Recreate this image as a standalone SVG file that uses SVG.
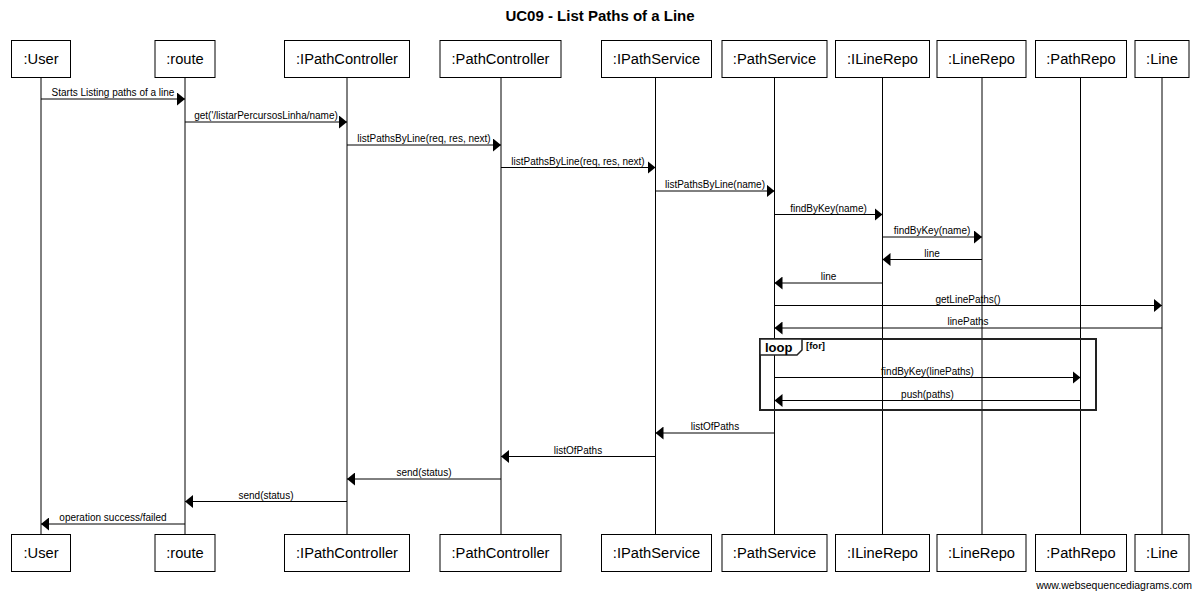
<svg xmlns="http://www.w3.org/2000/svg" width="1200" height="597" viewBox="0 0 1200 597">
<style>
.bg{fill:#fff}
.box{fill:#fff;stroke:#000;stroke-width:1}
.pt{font-family:"Liberation Sans",Arial,sans-serif;font-size:14.7px;fill:#000;text-anchor:middle}
.life{stroke:#000;stroke-width:1;fill:none}
.msg{stroke:#000;stroke-width:1;fill:none;marker-end:url(#ah)}
.lbl{font-family:"Liberation Sans",Arial,sans-serif;font-size:10px;fill:#000;text-anchor:middle}
.title{font-family:"Liberation Sans",Arial,sans-serif;font-size:15px;font-weight:bold;fill:#000;text-anchor:middle}
.foot{font-family:"Liberation Sans",Arial,sans-serif;font-size:10.5px;fill:#000;text-anchor:end}
.frame{fill:none;stroke:#222;stroke-width:2}
.tab{fill:#fff;stroke:#222;stroke-width:1.5}
.loopt{font-family:"Liberation Sans",Arial,sans-serif;font-size:13px;font-weight:bold;fill:#000}
.cond{font-family:"Liberation Sans",Arial,sans-serif;font-size:9.5px;font-weight:bold;fill:#000}
</style>
<defs>
<marker id="ah" markerUnits="userSpaceOnUse" markerWidth="9" markerHeight="13" refX="8" refY="6.5" orient="auto">
<path d="M0,0 L8,6.5 L0,13 z" fill="#000"/>
</marker>
</defs>
<rect class="bg" x="0" y="0" width="1200" height="597"/>
<text class="title" x="600" y="21">UC09 - List Paths of a Line</text>

<g id="lifelines">
<line class="life" x1="41" y1="77" x2="41" y2="535"/>
<line class="life" x1="185" y1="77" x2="185" y2="535"/>
<line class="life" x1="347" y1="77" x2="347" y2="535"/>
<line class="life" x1="501" y1="77" x2="501" y2="535"/>
<line class="life" x1="655.5" y1="77" x2="655.5" y2="535"/>
<line class="life" x1="774.5" y1="77" x2="774.5" y2="535"/>
<line class="life" x1="882.5" y1="77" x2="882.5" y2="535"/>
<line class="life" x1="982" y1="77" x2="982" y2="535"/>
<line class="life" x1="1080.5" y1="77" x2="1080.5" y2="535"/>
<line class="life" x1="1162" y1="77" x2="1162" y2="535"/>
</g>

<g id="n-user">
<rect class="box" x="11.5" y="40.5" width="59" height="37"/><text class="pt" x="41" y="64">:User</text>
<rect class="box" x="11.5" y="534.5" width="59" height="37"/><text class="pt" x="41" y="558">:User</text>
</g>
<g id="n-route">
<rect class="box" x="155" y="40.5" width="60" height="37"/><text class="pt" x="185" y="64">:route</text>
<rect class="box" x="155" y="534.5" width="60" height="37"/><text class="pt" x="185" y="558">:route</text>
</g>
<g id="n-ipathcontroller">
<rect class="box" x="284.5" y="40.5" width="125" height="37"/><text class="pt" x="347" y="64">:IPathController</text>
<rect class="box" x="284.5" y="534.5" width="125" height="37"/><text class="pt" x="347" y="558">:IPathController</text>
</g>
<g id="n-pathcontroller">
<rect class="box" x="440" y="40.5" width="121" height="37"/><text class="pt" x="500.5" y="64">:PathController</text>
<rect class="box" x="440" y="534.5" width="121" height="37"/><text class="pt" x="500.5" y="558">:PathController</text>
</g>
<g id="n-ipathservice">
<rect class="box" x="601.5" y="40.5" width="110" height="37"/><text class="pt" x="656.5" y="64">:IPathService</text>
<rect class="box" x="601.5" y="534.5" width="110" height="37"/><text class="pt" x="656.5" y="558">:IPathService</text>
</g>
<g id="n-pathservice">
<rect class="box" x="722" y="40.5" width="105" height="37"/><text class="pt" x="774.5" y="64">:PathService</text>
<rect class="box" x="722" y="534.5" width="105" height="37"/><text class="pt" x="774.5" y="558">:PathService</text>
</g>
<g id="n-ilinerepo">
<rect class="box" x="835.5" y="40.5" width="94" height="37"/><text class="pt" x="882.5" y="64">:ILineRepo</text>
<rect class="box" x="835.5" y="534.5" width="94" height="37"/><text class="pt" x="882.5" y="558">:ILineRepo</text>
</g>
<g id="n-linerepo">
<rect class="box" x="937" y="40.5" width="89" height="37"/><text class="pt" x="981.5" y="64">:LineRepo</text>
<rect class="box" x="937" y="534.5" width="89" height="37"/><text class="pt" x="981.5" y="558">:LineRepo</text>
</g>
<g id="n-pathrepo">
<rect class="box" x="1035.5" y="40.5" width="91" height="37"/><text class="pt" x="1081" y="64">:PathRepo</text>
<rect class="box" x="1035.5" y="534.5" width="91" height="37"/><text class="pt" x="1081" y="558">:PathRepo</text>
</g>
<g id="n-line">
<rect class="box" x="1135" y="40.5" width="54" height="37"/><text class="pt" x="1162" y="64">:Line</text>
<rect class="box" x="1135" y="534.5" width="54" height="37"/><text class="pt" x="1162" y="558">:Line</text>
</g>

<g id="loop-frame">
<rect class="frame" x="760" y="339" width="336" height="71"/>
<path class="tab" d="M760,339 L802,339 L802,350 L797,355 L760,355 Z"/>
<text class="loopt" x="765" y="352">loop</text>
<text class="cond" x="806" y="349">[for]</text>
</g>

<g id="connectors">
<line class="msg" x1="41" y1="99" x2="185" y2="99"/><text class="lbl" x="113" y="96">Starts Listing paths of a line</text>
<line class="msg" x1="185" y1="122" x2="347" y2="122"/><text class="lbl" x="266" y="119">get('/listarPercursosLinha/name)</text>
<line class="msg" x1="347" y1="145" x2="501" y2="145"/><text class="lbl" x="424" y="142">listPathsByLine(req, res, next)</text>
<line class="msg" x1="501" y1="167.5" x2="655.5" y2="167.5"/><text class="lbl" x="578" y="164.5">listPathsByLine(req, res, next)</text>
<line class="msg" x1="655.5" y1="191" x2="774.5" y2="191"/><text class="lbl" x="715" y="188">listPathsByLine(name)</text>
<line class="msg" x1="774.5" y1="214.5" x2="882.5" y2="214.5"/><text class="lbl" x="828.5" y="211.5">findByKey(name)</text>
<line class="msg" x1="882.5" y1="237" x2="982" y2="237"/><text class="lbl" x="932" y="234">findByKey(name)</text>
<line class="msg" x1="982" y1="259.5" x2="882.5" y2="259.5"/><text class="lbl" x="932" y="256.5">line</text>
<line class="msg" x1="882.5" y1="283" x2="774.5" y2="283"/><text class="lbl" x="828.5" y="280">line</text>
<line class="msg" x1="774.5" y1="305.5" x2="1162" y2="305.5"/><text class="lbl" x="968" y="302.5">getLinePaths()</text>
<line class="msg" x1="1162" y1="328" x2="774.5" y2="328"/><text class="lbl" x="968" y="325">linePaths</text>
<line class="msg" x1="774.5" y1="377.5" x2="1080.5" y2="377.5"/><text class="lbl" x="927.5" y="374.5">findByKey(linePaths)</text>
<line class="msg" x1="1080.5" y1="400.5" x2="774.5" y2="400.5"/><text class="lbl" x="927.5" y="397.5">push(paths)</text>
<line class="msg" x1="774.5" y1="433" x2="655.5" y2="433"/><text class="lbl" x="715" y="430">listOfPaths</text>
<line class="msg" x1="655.5" y1="456.5" x2="501" y2="456.5"/><text class="lbl" x="578" y="453.5">listOfPaths</text>
<line class="msg" x1="501" y1="479" x2="347" y2="479"/><text class="lbl" x="424" y="476">send(status)</text>
<line class="msg" x1="347" y1="501.5" x2="185" y2="501.5"/><text class="lbl" x="266" y="498.5">send(status)</text>
<line class="msg" x1="185" y1="524" x2="41" y2="524"/><text class="lbl" x="113" y="521">operation success/failed</text>
</g>

<text class="foot" x="1192" y="589">www.websequencediagrams.com</text>
</svg>
